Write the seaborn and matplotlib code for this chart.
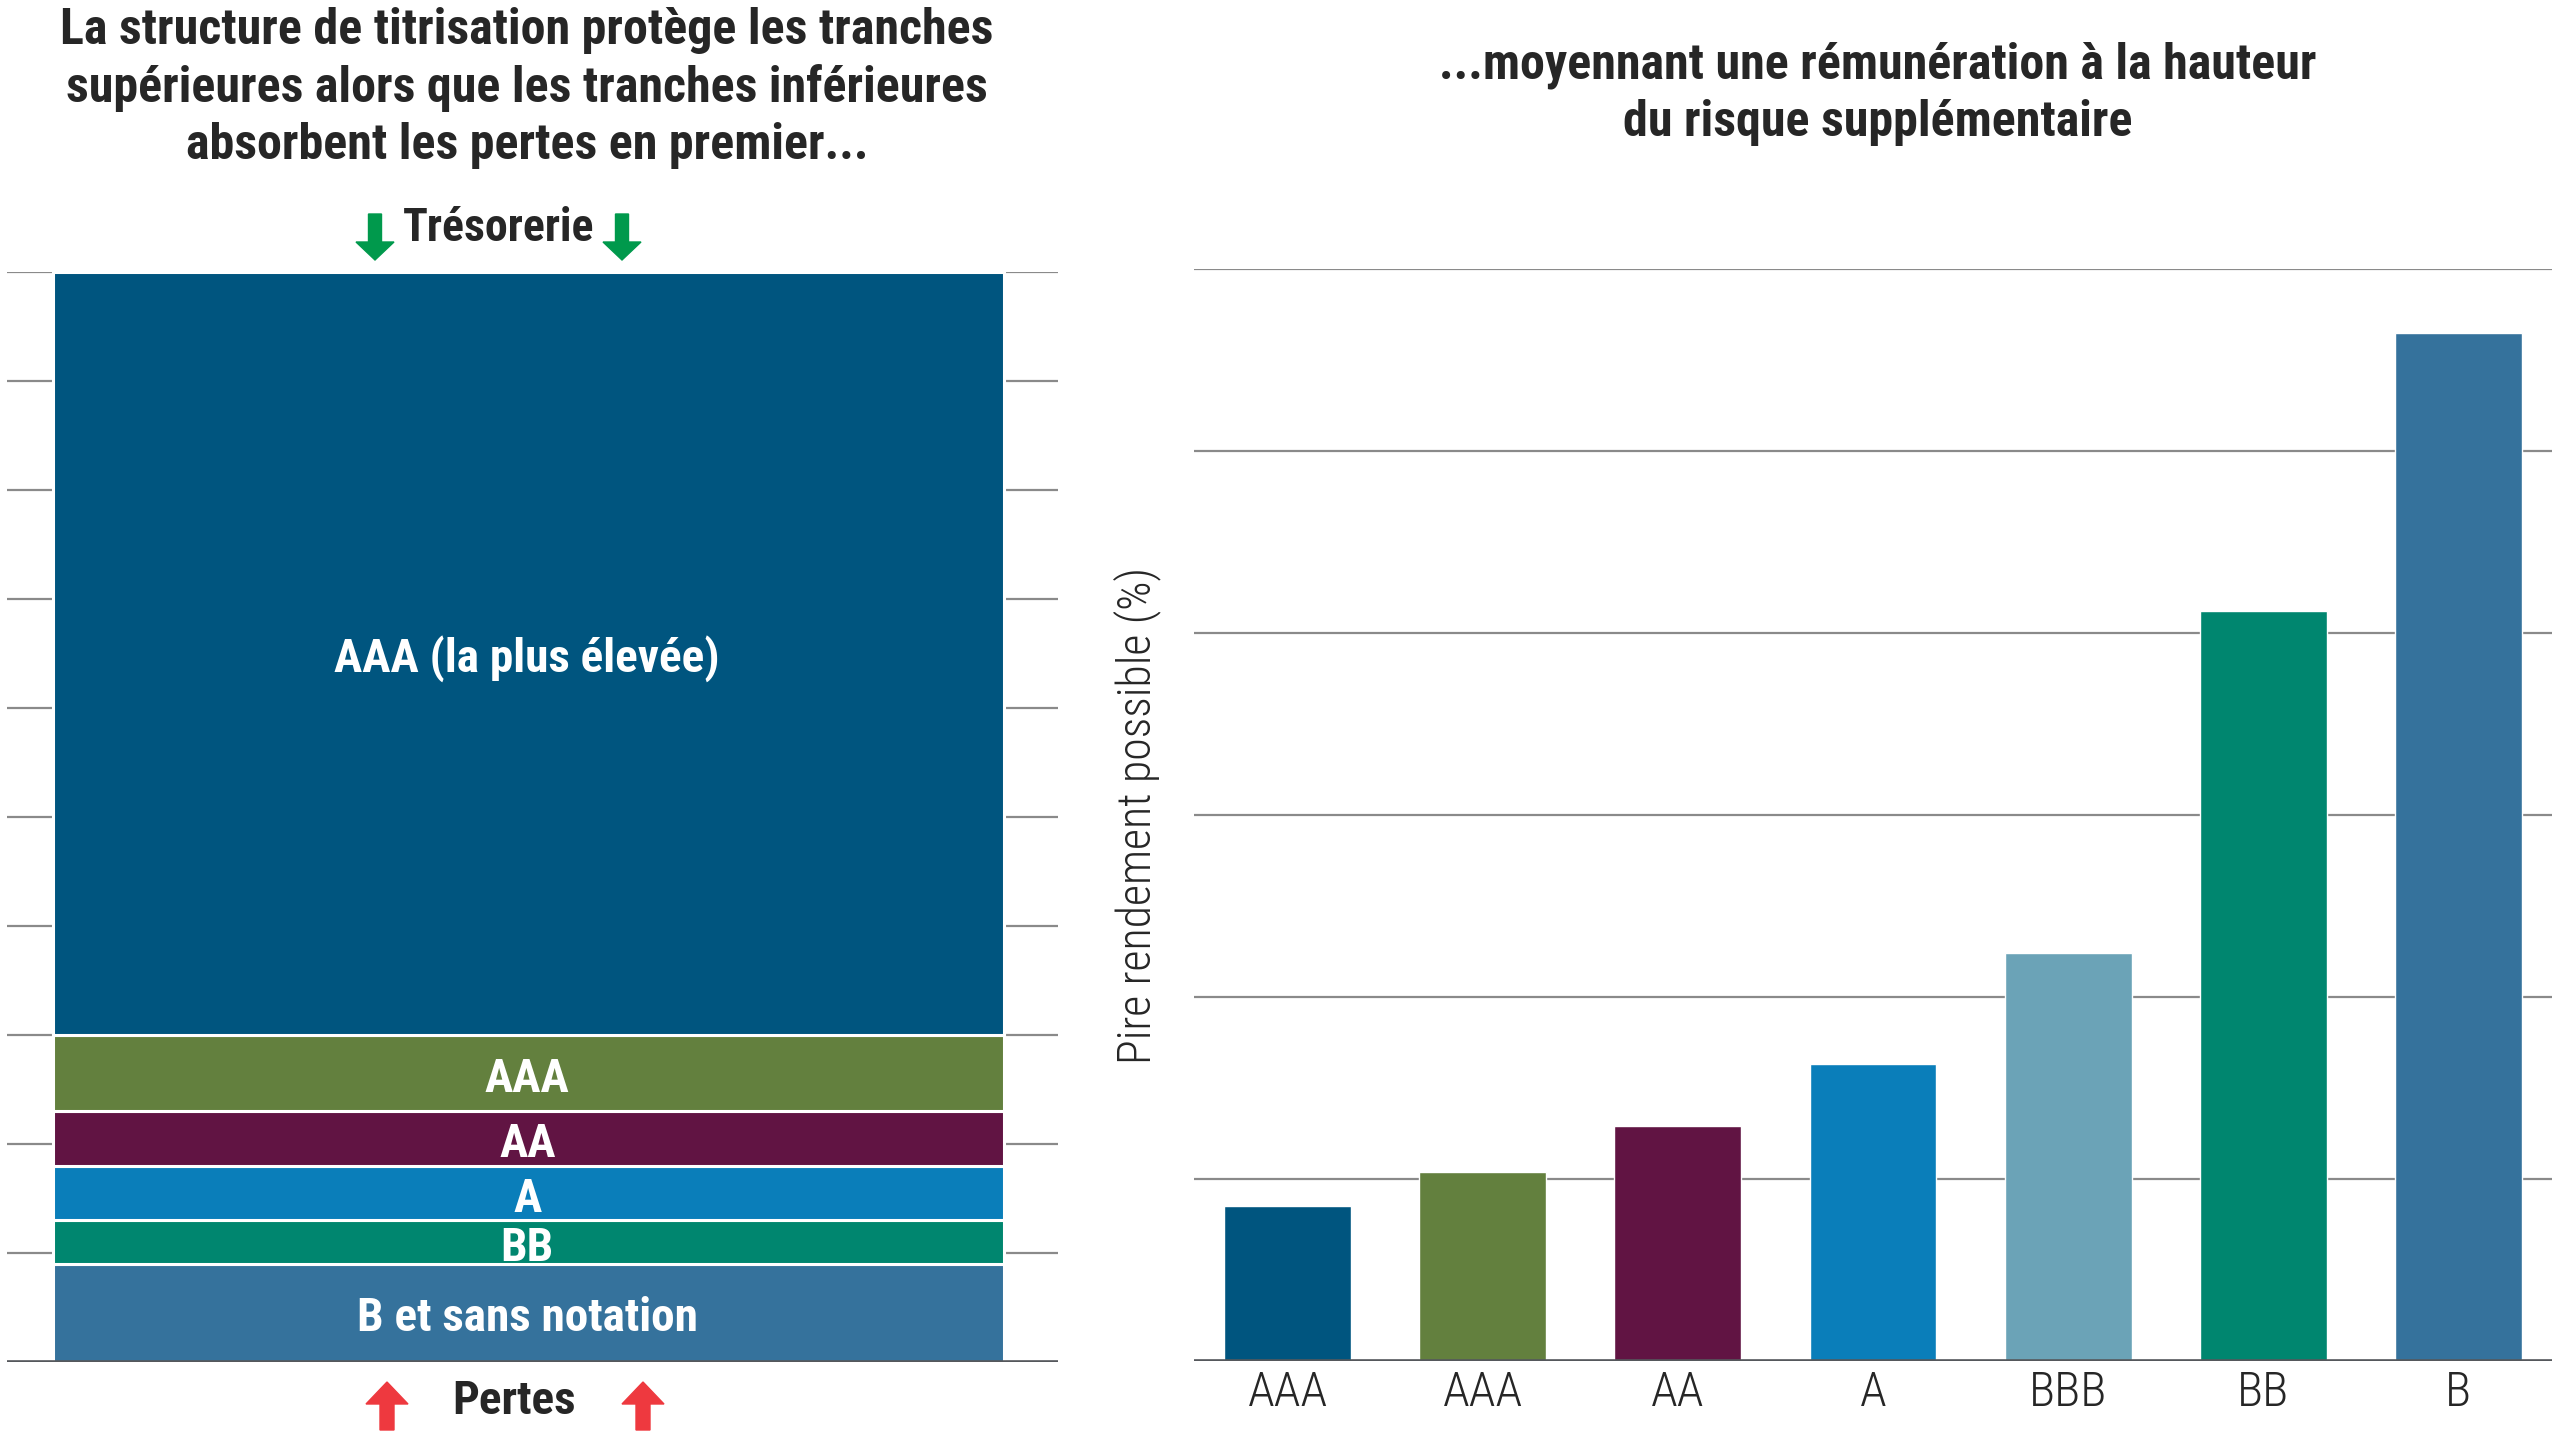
import numpy as np
import pandas as pd
import matplotlib
matplotlib.use("Agg")
import matplotlib.pyplot as plt
import seaborn as sns
from matplotlib import font_manager
from matplotlib.patches import FancyArrow
from matplotlib.transforms import IdentityTransform

# left panel: tranche structure (share of the pool, %), bottom to top
tranche_labels = ["B et sans notation", "BB", "A", "AA", "AAA", "AAA (la plus élevée)"]
tranche_sizes = [9, 4, 5, 5, 7, 70]
tranche_colors = ["#35729C", "#00866F", "#0A7EBA", "#611443", "#63803E", "#00557F"]

# right panel: worst possible yield by rating (no scale shown on the chart)
ratings = ["AAA", "AAA", "AA", "A", "BBB", "BB", "B"]
worst_yield = [0.85, 1.04, 1.29, 1.63, 2.24, 4.12, 5.65]
rating_colors = ["#00557F", "#63803E", "#611443", "#0A7EBA", "#6BA3B7", "#00866F", "#35729C"]

title_left = ("La structure de titrisation protège les tranches\n"
              "supérieures alors que les tranches inférieures\n"
              "absorbent les pertes en premier...")
title_right = "...moyennant une rémunération à la hauteur\ndu risque supplémentaire"

W, H = 2560, 1440

sns.set_style("white")
names = {f.name for f in font_manager.fontManager.ttflist}


def pick(*cands):
    for c in cands:
        if c in names:
            return c
    return "DejaVu Sans"


bold_font = pick("Roboto Condensed", "Liberation Sans Narrow", "DejaVu Sans")
light_font = pick("Roboto Condensed", "Roboto", "Liberation Sans Narrow")
plt.rcParams["font.family"] = [bold_font, "DejaVu Sans"]


def fx(x):
    return x / W


def fy(y):
    return 1 - y / H


fig = plt.figure(figsize=(25.6, 14.4), dpi=100)

# ---- left: stacked tranche box ----
axl = fig.add_axes([fx(7), fy(1362), fx(1058) - fx(7), fy(272) - fy(1362)])
bottoms = np.concatenate([[0], np.cumsum(tranche_sizes)[:-1]])
axl.bar(np.full(len(tranche_sizes), -0.004), tranche_sizes, width=0.905, bottom=bottoms,
        color=tranche_colors, edgecolor="white", linewidth=2.2, zorder=2)
axl.set_xlim(-0.5, 0.5)
axl.set_ylim(0, 100)
axl.set_yticks(range(0, 101, 10))
axl.grid(axis="y", color="#8a8a8a", linewidth=1.6)
axl.set_axisbelow(True)
axl.tick_params(length=0, labelleft=False, labelbottom=False)
axl.axhline(0, color="#55585c", linewidth=2.6, zorder=3)
sns.despine(ax=axl, left=True, bottom=True)
for lab, b, s in zip(tranche_labels, bottoms, tranche_sizes):
    axl.text(-0.005, b + s / 2 - 0.5, lab, ha="center", va="center", color="white",
             fontsize=34, fontweight="bold", family=[bold_font, "DejaVu Sans"], zorder=4)

fig.text(fx(527), fy(88), title_left, ha="center", va="center", fontsize=36,
         fontweight="bold", linespacing=1.27)
fig.text(fx(499), fy(228), "Trésorerie", ha="center", va="center", fontsize=33,
         fontweight="bold")
fig.text(fx(514), fy(1401), "Pertes", ha="center", va="center", fontsize=34,
         fontweight="bold")

for x in (375, 622):
    fig.add_artist(FancyArrow(x, H - 214, 0, -46, width=13, head_width=38,
                              head_length=18, length_includes_head=True,
                              color="#00994C", transform=IdentityTransform()))
for x in (387, 643):
    fig.add_artist(FancyArrow(x, H - 1430, 0, 48, width=14, head_width=42,
                              head_length=22, length_includes_head=True,
                              color="#EE393F", transform=IdentityTransform()))

# ---- right: worst yield bars ----
axr = fig.add_axes([fx(1194), fy(1361), fx(2552) - fx(1194), fy(269) - fy(1361)])
df = pd.DataFrame({"pos": range(len(ratings)), "yield": worst_yield})
sns.barplot(data=df, x="pos", y="yield", hue="pos", palette=rating_colors,
            legend=False, width=0.65, saturation=1, ax=axr, zorder=2)
axr.set_xlim(-0.48, len(ratings) - 0.52)
axr.set_ylim(0, 6)
axr.set_yticks(range(0, 7))
axr.grid(axis="y", color="#8a8a8a", linewidth=1.6)
axr.set_axisbelow(True)
axr.axhline(0, color="#55585c", linewidth=2.6, zorder=3)
axr.set_xticks(range(len(ratings)))
axr.set_xticklabels(ratings, fontsize=35, family=[light_font, "DejaVu Sans"],
                    fontweight="light")
axr.tick_params(length=0, pad=6, labelleft=False)
axr.set_xlabel("")
axr.set_ylabel("Pire rendement possible (%)", fontsize=33, labelpad=24,
               family=[light_font, "DejaVu Sans"], fontweight="light")
sns.despine(ax=axr, left=True, bottom=True)

fig.text(fx(1878), fy(94), title_right, ha="center", va="center", fontsize=36,
         fontweight="bold", linespacing=1.27)

fig.savefig("out.png", dpi=100)
